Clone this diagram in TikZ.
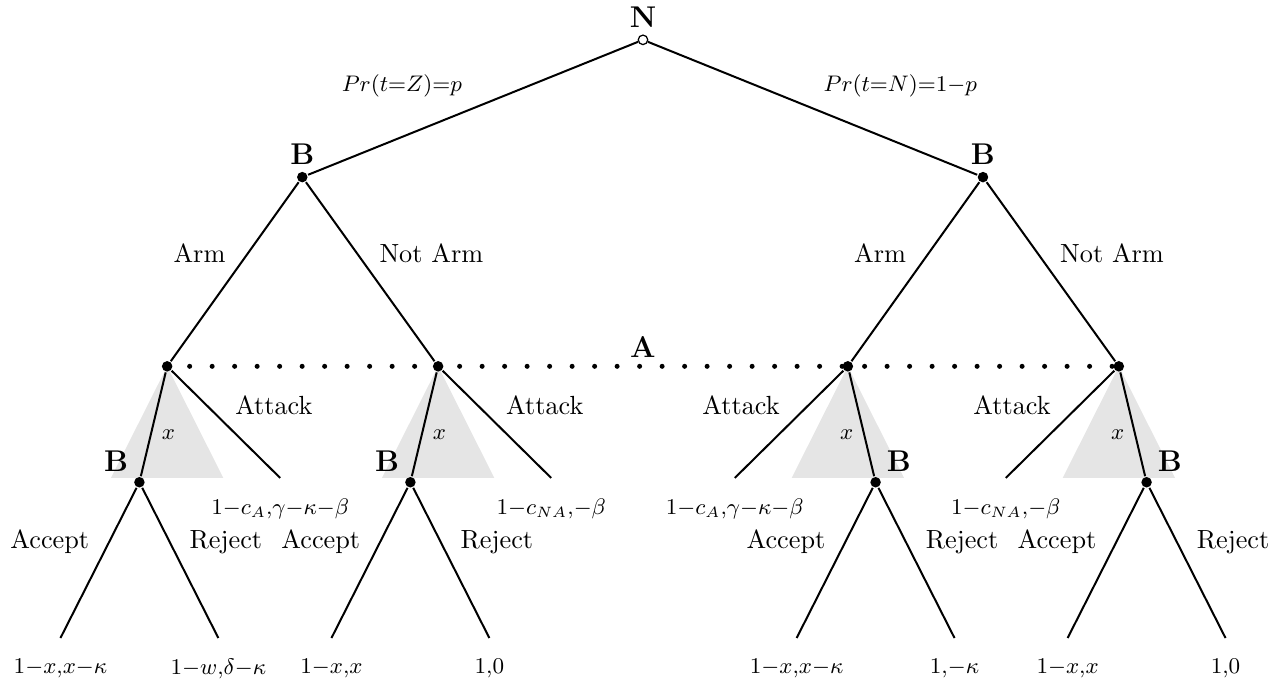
\documentclass[tikz,border=0pt]{standalone}
\usepackage{amsmath,amssymb}
\usepackage{tikz}
\usetikzlibrary{positioning}
\usepackage{xcolor}
\DeclareMathSizes{10.5}{10}{9}{6}

\tikzset{
  dot/.style={circle,fill=black,inner sep=0pt,minimum size=4.2pt},
  chance/.style={circle,draw=black,fill=white,inner sep=0pt,minimum size=3.8pt,line width=0.5pt},
  player/.style={font=\bfseries\large},
  pay/.style={inner sep=1pt,execute at begin node=$\scriptstyle, execute at end node=$},
  info/.style={line width=2pt,line cap=round,dash pattern=on 0pt off 9pt},
  offer/.style={fill=gray!20},
}

\begin{document}
\begin{tikzpicture}[thick,font=\fontsize{10.5}{12.6}\selectfont]
\useasboundingbox (0,0) rectangle (18.01,-9.63);

% offers x by B
\foreach \x in {2.35,6.16,11.92,15.73}
  \fill[offer] (\x,-5.15) -- ++(-0.79,-1.57) -- ++(1.58,0) -- cycle;

% nature and first B
\node[chance] (n) at (9.04,-0.56) {};
\node[dot] (bz) at (4.25,-2.49) {};
\node[dot] (bn) at (13.82,-2.49) {};
\node[player,above=-1pt of n] (ln) {N};
\node[player,above=-1pt of bz] (lbz) {B};
\node[player,above=-1pt of bn] (lbn) {B};

% A nodes
\node[dot] (a1) at (2.35,-5.15) {};
\node[dot] (a2) at (6.16,-5.15) {};
\node[dot] (a3) at (11.92,-5.15) {};
\node[dot] (a4) at (15.73,-5.15) {};

% B answers
\node[dot] (r1) at (1.96,-6.78) {};
\node[dot] (r2) at (5.77,-6.78) {};
\node[dot] (r3) at (12.31,-6.78) {};
\node[dot] (r4) at (16.12,-6.78) {};
\node[player,above left=-1pt and -1pt of r1] (lr1) {B};
\node[player,above left=-1pt and -1pt of r2] (lr2) {B};
\node[player,above right=-1pt and -1pt of r3] (lr3) {B};
\node[player,above right=-1pt and -1pt of r4] (lr4) {B};

% attack ends
\coordinate (t1) at (3.94,-6.72);
\coordinate (t2) at (7.75,-6.72);
\coordinate (t3) at (10.33,-6.72);
\coordinate (t4) at (14.14,-6.72);
\node[pay,below=7pt of t1] (pt1) {1-c_A,\gamma-\kappa-\beta};
\node[pay,below=7pt of t2] (pt2) {1-c_{NA},-\beta};
\node[pay,below=7pt of t3] (pt3) {1-c_A,\gamma-\kappa-\beta};
\node[pay,below=7pt of t4] (pt4) {1-c_{NA},-\beta};

% leaves
\coordinate (l1) at (0.85,-8.97);
\coordinate (l2) at (3.07,-8.97);
\coordinate (l3) at (4.66,-8.97);
\coordinate (l4) at (6.88,-8.97);
\coordinate (l5) at (11.20,-8.97);
\coordinate (l6) at (13.42,-8.97);
\coordinate (l7) at (15.01,-8.97);
\coordinate (l8) at (17.23,-8.97);
\node[pay,below=7pt of l1] (pl1) {1-x,x-\kappa};
\node[pay,below=7pt of l2] (pl2) {1-w,\delta-\kappa};
\node[pay,below=7pt of l3] (pl3) {1-x,x};
\node[pay,below=7pt of l4] (pl4) {1,0};
\node[pay,below=7pt of l5] (pl5) {1-x,x-\kappa};
\node[pay,below=7pt of l6] (pl6) {1,-\kappa};
\node[pay,below=7pt of l7] (pl7) {1-x,x};
\node[pay,below=7pt of l8] (pl8) {1,0};

% information set of A
\draw[info] (a1.center) -- node[player,above=-1pt]{A} (a4.center);

\draw (n) -- node[pay,above left=3pt and 3pt]{Pr(t=Z)=p} (bz);
\draw (n) -- node[pay,above right=3pt and 3pt]{Pr(t=N)=1-p} (bn);

\draw (bz) -- node[above left]{Arm} (a1);
\draw (bz) -- node[above right]{Not Arm} (a2);
\draw (bn) -- node[above left]{Arm} (a3);
\draw (bn) -- node[above right]{Not Arm} (a4);

\draw (a1) -- node[pos=0.6,pay,right=3pt]{x} (r1);
\draw (a2) -- node[pos=0.6,pay,right=3pt]{x} (r2);
\draw (a3) -- node[pos=0.6,pay,left=3pt]{x} (r3);
\draw (a4) -- node[pos=0.6,pay,left=3pt]{x} (r4);

\draw (a1) -- node[above right]{Attack} (t1);
\draw (a2) -- node[above right]{Attack} (t2);
\draw (a3) -- node[above left]{Attack} (t3);
\draw (a4) -- node[above left]{Attack} (t4);

\draw (r1) -- node[above left]{Accept} (l1);
\draw (r1) -- node[above right]{Reject} (l2);
\draw (r2) -- node[above left]{Accept} (l3);
\draw (r2) -- node[above right]{Reject} (l4);
\draw (r3) -- node[above left]{Accept} (l5);
\draw (r3) -- node[above right]{Reject} (l6);
\draw (r4) -- node[above left]{Accept} (l7);
\draw (r4) -- node[above right]{Reject} (l8);
\end{tikzpicture}
\end{document}
